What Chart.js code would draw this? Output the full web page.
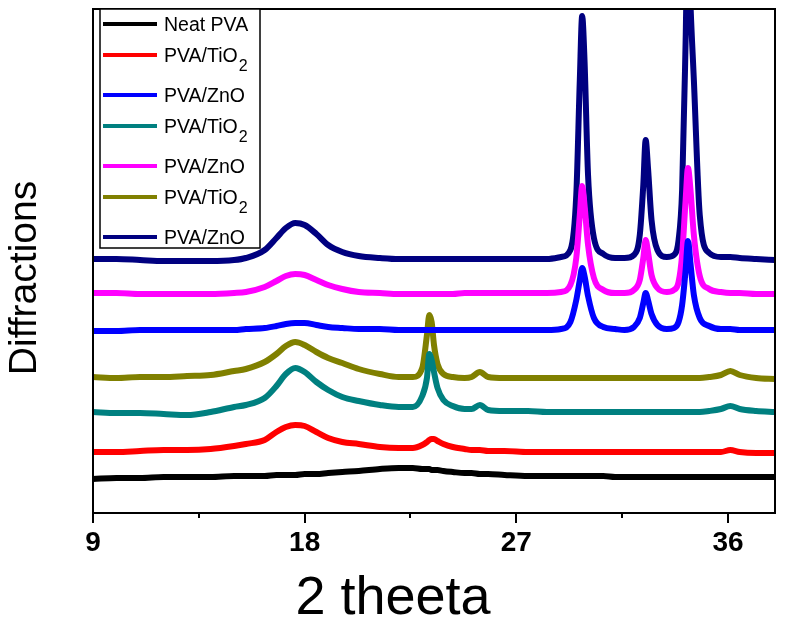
<!DOCTYPE html>
<html>
<head>
<meta charset="utf-8">
<script src="https://cdn.jsdelivr.net/npm/chart.js@4.4.1/dist/chart.umd.min.js"></script>
<style>
  body { margin: 0; background: #fff; }
</style>
</head>
<body>
<canvas id="xrdChart" width="785" height="624"></canvas>
<script>
// 2 theta positions (deg), shared by every pattern
var theta = [9, 10, 11, 12, 13, 14, 15, 15.5, 16.3, 16.8, 17.2, 17.6, 18.0, 18.5, 19.0, 19.6, 20.3,
  21.2, 22.0, 22.6, 23.0, 23.2, 23.3, 23.4, 23.5, 23.65, 23.9, 24.3, 24.8, 25.1, 25.45, 25.8, 26.5,
  27.5, 28.3, 28.9, 29.3, 29.55, 29.7, 29.8, 29.9, 30.05, 30.3, 30.7, 31.2, 31.6, 32.0, 32.25, 32.4,
  32.5, 32.6, 32.75, 33.0, 33.4, 33.7, 33.9, 34.05, 34.2, 34.3, 34.4, 34.55, 34.8, 35.2, 35.7, 36.1,
  36.5, 37.2, 38];

// stacked intensities (a.u.)
var neatPVA = [34, 35, 35, 36, 36, 36, 37, 37, 37, 38, 38, 38, 39, 39, 40, 41, 42,
  44, 45, 45, 44, 44, 44, 43, 43, 43, 42, 41, 40, 40, 39, 39, 38,
  37, 37, 37, 37, 37, 37, 37, 37, 37, 37, 37, 36, 36, 36, 36, 36,
  36, 36, 36, 36, 36, 36, 36, 36, 36, 36, 36, 36, 36, 36, 36, 36,
  36, 36, 36];
var pvaTiO2a = [61, 61, 62, 63, 63, 64, 67, 69, 73, 81, 86, 88, 87, 81, 75, 71, 69,
  66, 65, 65, 68, 71, 73, 74, 74, 72, 69, 66, 64, 63, 63, 62, 62,
  61, 61, 61, 61, 61, 61, 61, 61, 61, 61, 61, 61, 61, 61, 61, 61,
  61, 61, 61, 61, 61, 61, 61, 61, 61, 61, 61, 61, 61, 61, 61, 63,
  61, 60, 60];
var pvaZnOa = [182, 182, 183, 183, 183, 183, 183, 184, 185, 187, 189, 190, 190, 188, 186, 185, 184,
  184, 183, 183, 183, 183, 183, 183, 183, 183, 183, 183, 183, 183, 183, 183, 183,
  183, 183, 184, 191, 213, 233, 245, 237, 217, 195, 186, 184, 183, 186, 195, 210,
  220, 213, 199, 188, 184, 185, 191, 208, 243, 272, 251, 218, 195, 187, 184, 184,
  183, 183, 183];
var pvaTiO2b = [101, 100, 100, 99, 98, 101, 106, 108, 115, 127, 139, 145, 141, 131, 123, 116, 112,
  108, 106, 106, 117, 135, 159, 153, 141, 125, 113, 107, 104, 104, 108, 103, 102,
  102, 101, 101, 101, 101, 101, 101, 101, 101, 101, 101, 101, 101, 101, 101, 101,
  101, 101, 101, 101, 101, 101, 101, 101, 101, 101, 101, 101, 101, 102, 104, 107,
  104, 102, 101];
var pvaZnOb = [220, 220, 219, 219, 219, 219, 220, 221, 226, 232, 237, 239, 238, 233, 228, 224, 221,
  220, 219, 219, 219, 219, 219, 219, 219, 219, 219, 219, 220, 220, 220, 220, 220,
  220, 220, 221, 228, 255, 298, 327, 308, 268, 235, 223, 220, 220, 223, 233, 255,
  273, 261, 238, 225, 221, 223, 231, 258, 313, 345, 325, 278, 237, 224, 221, 220,
  220, 219, 219];
var pvaTiO2c = [136, 135, 136, 136, 137, 138, 142, 144, 151, 159, 167, 171, 168, 161, 155, 150, 144,
  139, 136, 136, 145, 178, 198, 191, 168, 149, 139, 136, 135, 136, 141, 136, 135,
  135, 135, 135, 135, 135, 135, 135, 135, 135, 135, 135, 135, 135, 135, 135, 135,
  135, 135, 135, 135, 135, 135, 135, 135, 135, 135, 135, 135, 135, 136, 138, 142,
  138, 135, 134];
var pvaZnOc = [254, 254, 253, 252, 252, 252, 253, 255, 263, 275, 285, 290, 288, 279, 268, 261, 257,
  255, 254, 254, 254, 254, 254, 254, 254, 254, 254, 254, 254, 254, 254, 254, 254,
  254, 254, 256, 263, 318, 433, 497, 453, 338, 275, 259, 255, 255, 258, 278, 328,
  373, 345, 293, 263, 256, 258, 273, 323, 473, 593, 513, 433, 298, 260, 256, 256,
  255, 254, 253];

var seriesNames = ["Neat PVA", "PVA/TiO2", "PVA/ZnO", "PVA/TiO2", "PVA/ZnO", "PVA/TiO2", "PVA/ZnO"];
var seriesData = [neatPVA, pvaTiO2a, pvaZnOa, pvaTiO2b, pvaZnOb, pvaTiO2c, pvaZnOc];
var seriesColors = ["#000000", "#ff0000", "#0000ff", "#008080", "#ff00ff", "#808000", "#000080"];

var majorTicks = [9, 18, 27, 36];
var minorTicks = [13.5, 22.5, 31.5];

var FONT = '"Liberation Sans", Arial, sans-serif';

var datasets = [];
for (var i in seriesData) {
  datasets.push({
    label: seriesNames[i],
    data: theta.map(function (t, k) { return { x: t, y: seriesData[i][k] }; }),
    borderColor: seriesColors[i],
    backgroundColor: seriesColors[i],
    borderWidth: 6,
    pointRadius: 0,
    cubicInterpolationMode: "monotone",
    clip: 0
  });
}

// frame, minor ticks, axis titles and legend
var extras = {
  id: "extras",
  afterDraw: function (chart) {
    var ctx = chart.ctx;
    var a = chart.chartArea;
    var xs = chart.scales.x;
    ctx.save();

    ctx.strokeStyle = "#000";
    ctx.lineWidth = 2;
    ctx.strokeRect(a.left, a.top, a.right - a.left, a.bottom - a.top);

    ctx.beginPath();
    minorTicks.forEach(function (v) {
      var px = Math.round(xs.getPixelForValue(v));
      ctx.moveTo(px, a.bottom);
      ctx.lineTo(px, a.bottom + 5);
    });
    ctx.stroke();

    ctx.fillStyle = "#000";
    ctx.textAlign = "center";
    ctx.textBaseline = "alphabetic";
    ctx.font = "54px " + FONT;
    ctx.fillText("2 theeta", 393, 614);

    ctx.save();
    ctx.translate(36, 278);
    ctx.rotate(-Math.PI / 2);
    ctx.font = "39px " + FONT;
    ctx.fillText("Diffractions", 0, 0);
    ctx.restore();

    // legend
    ctx.fillStyle = "#fff";
    ctx.fillRect(100, a.top, 160, 239);
    ctx.lineWidth = 1.5;
    ctx.strokeRect(100, a.top, 160, 239);
    ctx.textAlign = "left";
    var y = 24;
    chart.data.datasets.forEach(function (ds) {
      var m = ds.label.match(/^(.*[A-Za-z])(\d+)$/);
      var base = m ? m[1] : ds.label;
      ctx.strokeStyle = ds.borderColor;
      ctx.lineWidth = 4;
      ctx.beginPath();
      ctx.moveTo(103, y);
      ctx.lineTo(157, y);
      ctx.stroke();
      ctx.fillStyle = "#000";
      ctx.font = "19.5px " + FONT;
      ctx.fillText(base, 164, y + 7);
      if (m) {
        var w = ctx.measureText(base).width;
        ctx.font = "16px " + FONT;
        ctx.fillText(m[2], 164 + w + 1, y + 16);
      }
      y += m ? 40 : 31;
    });
    ctx.restore();
  }
};

var ctx = document.getElementById("xrdChart");
var xrdChart = new Chart(ctx, {
  type: "line",
  data: { datasets: datasets },
  options: {
    responsive: false,
    animation: false,
    layout: { padding: { top: 9, right: 10, left: 0, bottom: 0 } },
    plugins: { legend: { display: false }, tooltip: { enabled: false } },
    scales: {
      x: {
        type: "linear",
        min: 9,
        max: 38,
        afterBuildTicks: function (scale) {
          scale.ticks = majorTicks.map(function (v) { return { value: v }; });
        },
        afterFit: function (scale) { scale.height = 111; },
        border: { display: false },
        grid: { drawOnChartArea: false, drawTicks: true, tickLength: 10, color: "#000", lineWidth: 2 },
        ticks: { color: "#000", padding: 3, font: { family: FONT, size: 28, weight: "bold" } }
      },
      y: {
        min: 0,
        max: 504,
        afterFit: function (scale) { scale.width = 93; },
        border: { display: false },
        grid: { display: false },
        ticks: { display: false }
      }
    }
  },
  plugins: [extras]
});
</script>
</body>
</html>
